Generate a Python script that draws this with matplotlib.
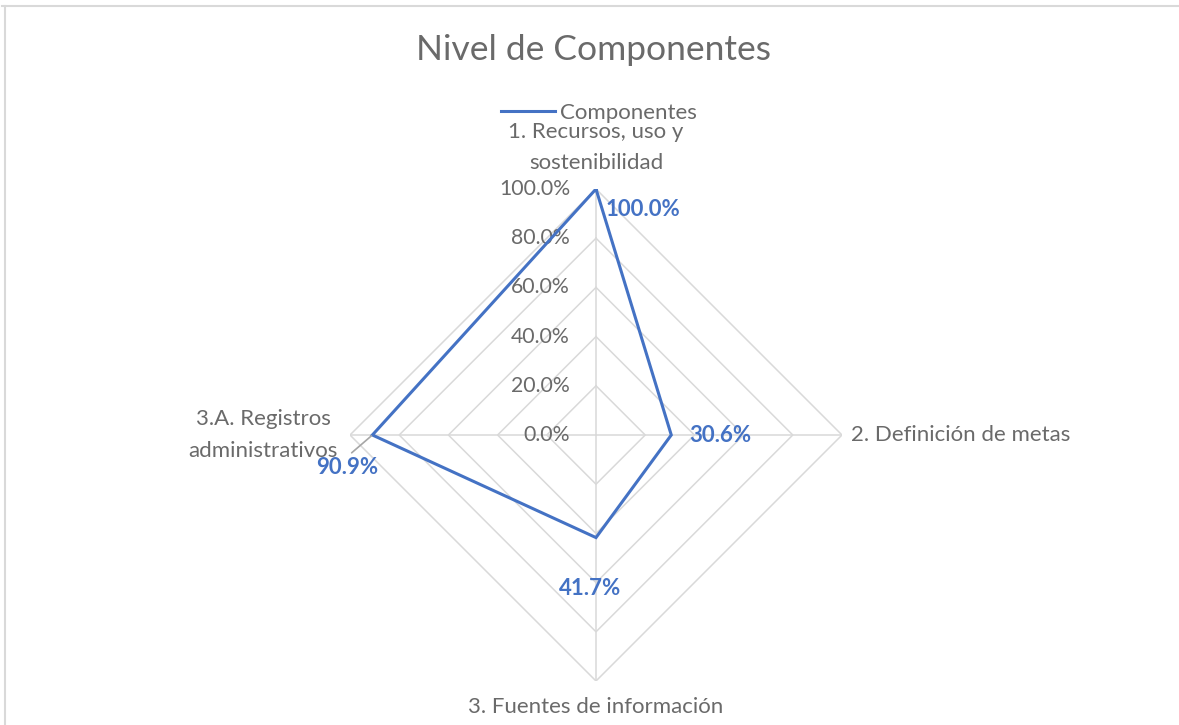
import numpy as np
import matplotlib
matplotlib.use("Agg")
import matplotlib.pyplot as plt
from matplotlib.lines import Line2D

plt.rcParams['font.family'] = ['Lato', 'DejaVu Sans']

# Data
categories = ["1. Recursos, uso y\nsostenibilidad", "2. Definición de metas",
              "3. Fuentes de información", "3.A. Registros\nadministrativos"]
values = [1.000, 0.306, 0.417, 0.909]
levels = [0.0, 0.2, 0.4, 0.6, 0.8, 1.0]
series_name = "Componentes"
title = "Nivel de Componentes"

W, H = 1179, 725
fig = plt.figure(figsize=(W / 100, H / 100), dpi=100)
fig.patch.set_facecolor("white")

# Outer frame (top and left edges)
border = "#D9D9D9"
fig.add_artist(Line2D([2 / W, 1], [1 - 5.5 / H, 1 - 5.5 / H], transform=fig.transFigure, color=border, lw=1.5))
fig.add_artist(Line2D([5 / W, 5 / W], [0, 1 - 5.5 / H], transform=fig.transFigure, color=border, lw=1.5))

cx, cy, R = 596, 435, 246
ax = fig.add_axes([(cx - R) / W, (H - cy - R) / H, 2 * R / W, 2 * R / H], projection="polar")
ax.set_theta_zero_location("N")
ax.set_theta_direction(-1)
ax.set_ylim(0, 1)
ax.grid(False)
ax.set_xticks([])
ax.set_yticks([])
ax.spines["polar"].set_visible(False)
ax.patch.set_alpha(0)

n = len(categories)
angles = np.arange(n) * 2 * np.pi / n
closed = np.append(angles, angles[0])

grid_c = "#D9D9D9"
for lv in levels[1:]:
    ax.plot(closed, [lv] * (n + 1), color=grid_c, lw=1.1, zorder=1)
for a in angles:
    ax.plot([a, a], [0, 1], color=grid_c, lw=1.1, zorder=1)

text_c = "#6A6A6A"
for lv in levels:
    ax.annotate(f"{lv * 100:.1f}%", xy=(0, lv), xytext=(-26, 0), textcoords="offset pixels",
                ha="right", va="center", fontsize=15.3, color=text_c, zorder=3)

blue = "#4472C4"
ax.plot(closed, np.append(values, values[0]), color=blue, lw=2.2, zorder=4,
        solid_joinstyle="miter", label=series_name)

# Category labels
lab_kw = dict(fontsize=16, color=text_c, clip_on=False, linespacing=1.7)
ax.text(angles[0], 1.17, categories[0], ha="center", va="center", multialignment="center", **lab_kw)
ax.text(angles[1], 1.037, categories[1], ha="left", va="center", **lab_kw)
ax.text(angles[2], 1.105, categories[2], ha="center", va="center", **lab_kw)
ax.text(angles[3], 1.05, categories[3], ha="right", va="center", multialignment="center", **lab_kw)

# Data labels
offsets = [(47, -21), (49, -1), (-6, -51), (-25, -32)]
for i, (a, v, off) in enumerate(zip(angles, values, offsets)):
    kw = {}
    if i == 3:
        kw["arrowprops"] = dict(arrowstyle="-", color="#A6A6A6", lw=1.2, shrinkA=1, shrinkB=1,
                                relpos=(0.5, 1.0))
    ax.annotate(f"{v * 100:.1f}%", xy=(a, v), xytext=off, textcoords="offset pixels",
                ha="center", va="center", fontsize=16, fontweight="bold", color=blue,
                zorder=5, **kw)

fig.text(594 / W, 1 - 50 / H, title, ha="center", va="center", fontsize=25.5, color=text_c)

# Legend
leg = fig.legend(handles=[Line2D([], [], color=blue, lw=2.2)], labels=[series_name],
                 loc="center", bbox_to_anchor=(599 / W, 1 - 113 / H), frameon=False,
                 fontsize=16, handlelength=2.4, handletextpad=0.22, borderpad=0)
for t in leg.get_texts():
    t.set_color(text_c)

fig.savefig("out.png", dpi=100, facecolor="white")
